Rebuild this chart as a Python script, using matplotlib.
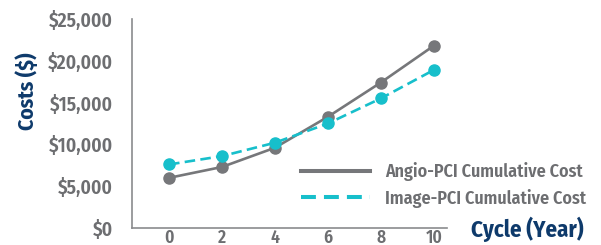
import matplotlib
matplotlib.use("Agg")
import matplotlib.pyplot as plt
from matplotlib import font_manager

years = [0, 2, 4, 6, 8, 10]
angio_cost = [6000, 7300, 9600, 13300, 17400, 21800]
image_cost = [7600, 8600, 10200, 12500, 15500, 18900]
y_ticks = [0, 5000, 10000, 15000, 20000, 25000]
y_tick_labels = ["$0", "$5,000", "$10,000", "$15,000", "$20,000", "$25,000"]
series_names = ["Angio-PCI Cumulative Cost", "Image-PCI Cumulative Cost"]

avail = {f.name for f in font_manager.fontManager.ttflist}
fam = next((f for f in ["Fira Sans Condensed", "PT Sans Narrow", "Roboto Condensed"] if f in avail), "DejaVu Sans")
families = [fam, 'DejaVu Sans']
plt.rcParams['font.family'] = families
WEIGHT = 600

grey = "#76777a"
teal = "#17bfcb"
navy = "#0e3a6b"
label_grey = "#6d6e71"

W, H = 601, 245
fig = plt.figure(figsize=(W/100, H/100), dpi=100)
ax = fig.add_axes([132/W, (H-228)/H, (447-132)/W, (228-19)/H])
renderer = fig.canvas.get_renderer()

def fit_size(text, target, vertical=False, weight=WEIGHT):
    t = fig.text(0, 0, text, fontsize=12, fontweight=weight, family=families,
                 rotation=90 if vertical else 0)
    bb = t.get_window_extent(renderer)
    size = 12 * target / (bb.height if vertical else bb.width)
    t.remove()
    return size

ax.plot(years, angio_cost, color=grey, lw=1.9, marker='o', ms=8, label=series_names[0])
ax.plot(years, image_cost, color=teal, lw=1.9, ls=(0, (4, 2)), marker='o', ms=8, label=series_names[1])

ax.set_xlim(-1.4, 10.5)
ax.set_ylim(0, 25000)
ax.set_xticks(years)
ax.set_xticklabels([str(y) for y in years])
ax.set_yticks(y_ticks)
ax.set_yticklabels(y_tick_labels)
tick_size = fit_size("$25,000", 64)
ax.tick_params(length=0, labelsize=tick_size, labelcolor=label_grey)
ax.tick_params(axis='y', pad=14)
ax.tick_params(axis='x', pad=1, labelsize=tick_size * 0.9)
for lab in ax.get_xticklabels() + ax.get_yticklabels():
    lab.set_fontweight(WEIGHT)
for s in ['top', 'right']:
    ax.spines[s].set_visible(False)
for s in ['left', 'bottom']:
    ax.spines[s].set_color("#8a8b8d")
    ax.spines[s].set_linewidth(1.2)

fig.text(27/W, 1 - 91/H, "Costs ($)", rotation=90, ha='center', va='center',
         color=navy, fontsize=fit_size("Costs ($)", 78, vertical=True, weight='bold'),
         fontweight='bold')
fig.text(527/W, 1 - 229/H, "Cycle (Year)", ha='center', va='center',
         color=navy, fontsize=fit_size("Cycle (Year)", 113, weight='bold'), fontweight='bold')

leg_size = fit_size(series_names[0], 198)
leg = ax.legend(loc='center left', bbox_to_anchor=(301/W, 1 - 185/H),
                bbox_transform=fig.transFigure, frameon=False, borderaxespad=0, borderpad=0,
                handlelength=69*0.72/leg_size, handletextpad=15*0.72/leg_size, labelspacing=0.42,
                prop={'size': leg_size, 'weight': WEIGHT, 'family': families},
                labelcolor=label_grey)
for h in leg.legend_handles:
    h.set_marker('')
    h.set_linewidth(2.9)
leg.legend_handles[1].set_linestyle((0, (3.7, 2)))

fig.savefig("out.png", dpi=100, facecolor='white')
